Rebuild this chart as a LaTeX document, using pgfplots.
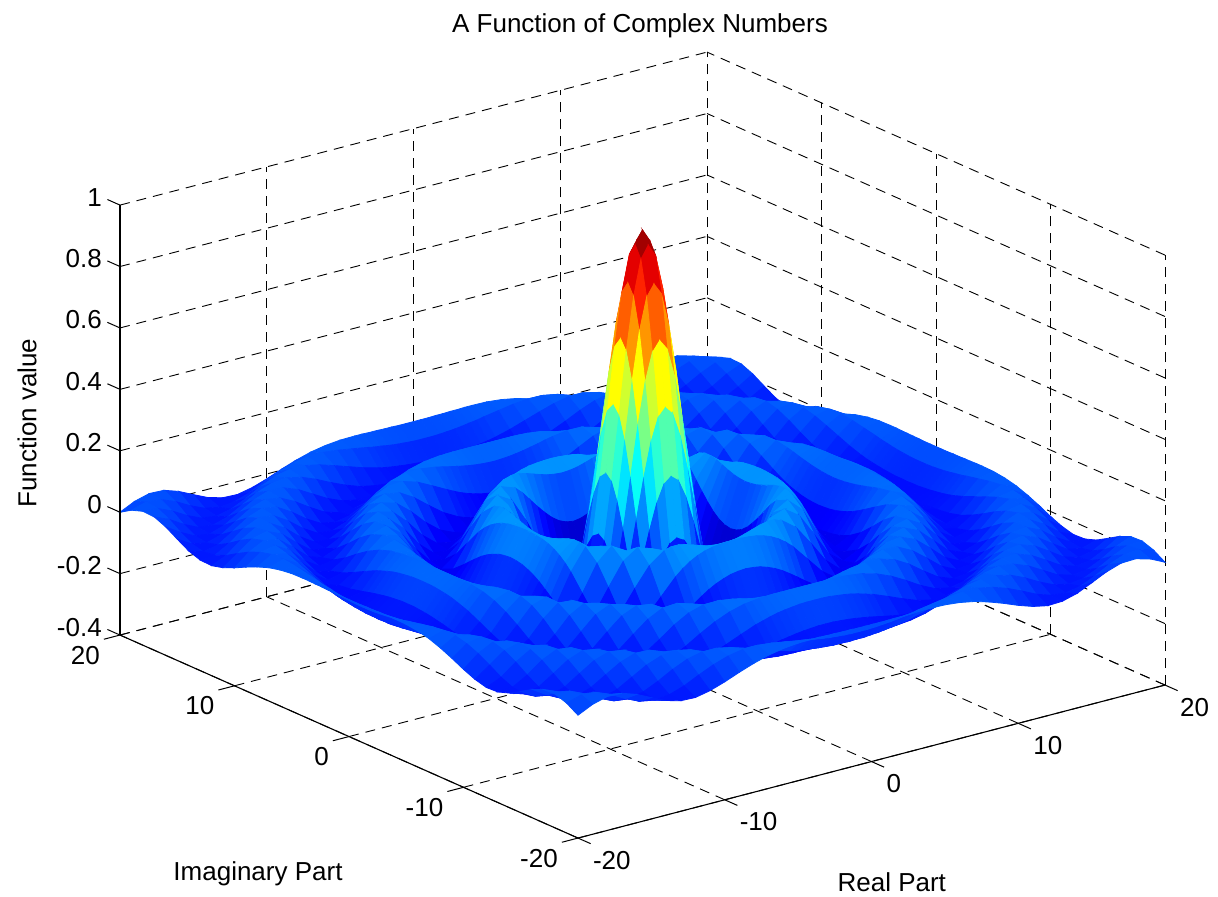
\documentclass[border=0pt]{standalone}
\usepackage{fontspec}
\setmainfont{Liberation Sans}
\usepackage{pgfplots}
\pgfplotsset{compat=1.18}
\begin{document}
\begin{tikzpicture}
\path[use as bounding box] (0,0) rectangle (609pt,448pt);
\begin{axis}[
  at={(321.25pt,179.4pt)}, anchor=origin,
  x={(7.3375pt,1.9125pt)}, y={(-5.725pt,2.5375pt)}, z={(0pt,153.55pt)},
  view={-37.5}{30}, clip=false,
  xmin=-20,xmax=20,ymin=-20,ymax=20,zmin=-0.4,zmax=1,
  xtick={-20,-10,0,10,20}, ytick={-20,-10,0,10,20}, ztick={-0.4,-0.2,0,0.2,0.4,0.6,0.8,1},
  grid=major, grid style={black,dash pattern=on 5pt off 3.5pt,line width=0.45pt},
  axis line style={draw=none},
  tick pos=left, major tick length=0pt,
  every axis title shift=0pt,
  /pgf/number format/assume math mode=true,
  tick label style={font=\fontsize{13}{15}\selectfont},
  xticklabel style={anchor=west,xshift=4pt,yshift=-11pt},
  yticklabel style={anchor=east,xshift=-6.6pt,yshift=-10pt},
  zticklabel style={anchor=east,xshift=-5.6pt,yshift=4pt},
  colormap/jet, point meta min=-0.217, point meta max=1,
  title={A Function of Complex Numbers},
  title style={font=\fontsize{13}{15}\selectfont,at={(axis cs:19.85,25.66,1)},anchor=center,yshift=-1pt},
  xlabel={Real Part},
  xlabel style={font=\fontsize{13}{15}\selectfont,at={(axis cs:-10.79,-35.6,-0.4)},anchor=center,rotate=0},
  ylabel={Imaginary Part},
  ylabel style={font=\fontsize{13}{15}\selectfont,at={(axis cs:-36.93,-13.75,-0.4)},anchor=center,rotate=0,yshift=-1.5pt},
  zlabel={Function value},
  zlabel style={font=\fontsize{13}{15}\selectfont,at={(axis cs:-3.47,49.3,-0.4)},anchor=center,rotate=0},
]
\addplot3[surf,shader=flat,mesh/rows=49,mesh/cols=49]
 table[header=false,
  x expr={ifthenelse(mod(\coordindex,49)<16,mod(\coordindex,49)-20,ifthenelse(mod(\coordindex,49)<33,(mod(\coordindex,49)-16)/2-4,mod(\coordindex,49)-28))},
  y expr={ifthenelse(floor((\coordindex+0.5)/49)<16,floor((\coordindex+0.5)/49)-20,ifthenelse(floor((\coordindex+0.5)/49)<33,(floor((\coordindex+0.5)/49)-16)/2-4,floor((\coordindex+0.5)/49)-28))},
  z index=0]{
0
.023
.036
.034
.018
-.005
-.027
-.040
-.042
-.032
-.016
.003
.020
.034
.043
.048
.049
.049
.048
.048
.047
.047
.046
.046
.046
.046
.046
.047
.047
.048
.048
.049
.049
.048
.043
.034
.020
.003
-.016
-.032
-.042
-.040
-.027
-.005
.018
.034
.036
.023
0
.023
.037
.033
.014
-.012
-.033
-.042
-.037
-.021
.002
.023
.039
.048
.049
.044
.036
.028
.023
.020
.016
.013
.011
.009
.008
.008
.008
.009
.011
.013
.016
.020
.023
.028
.036
.044
.049
.048
.039
.023
.002
-.021
-.037
-.042
-.033
-.012
.014
.033
.037
.023
.036
.033
.012
-.015
-.036
-.042
-.032
-.010
.016
.037
.048
.048
.038
.023
.007
-.009
-.022
-.027
-.031
-.034
-.037
-.039
-.041
-.041
-.042
-.041
-.041
-.039
-.037
-.034
-.031
-.027
-.022
-.009
.007
.023
.038
.048
.048
.037
.016
-.010
-.032
-.042
-.036
-.015
.012
.033
.036
.034
.014
-.015
-.037
-.042
-.028
-.001
.026
.044
.049
.039
.020
-.003
-.024
-.041
-.051
-.056
-.057
-.058
-.058
-.058
-.057
-.057
-.057
-.056
-.057
-.057
-.057
-.058
-.058
-.058
-.057
-.056
-.051
-.041
-.024
-.003
.020
.039
.049
.044
.026
-.001
-.028
-.042
-.037
-.015
.014
.034
.018
-.012
-.036
-.042
-.026
.003
.031
.048
.046
.028
.001
-.026
-.046
-.056
-.057
-.052
-.043
-.038
-.033
-.029
-.025
-.022
-.020
-.018
-.018
-.018
-.020
-.022
-.025
-.029
-.033
-.038
-.043
-.052
-.057
-.056
-.046
-.026
.001
.028
.046
.048
.031
.003
-.026
-.042
-.036
-.012
.018
-.005
-.033
-.042
-.028
.003
.033
.049
.042
.018
-.013
-.041
-.056
-.056
-.045
-.027
-.007
.012
.019
.026
.032
.036
.039
.042
.043
.043
.043
.042
.039
.036
.032
.026
.019
.012
-.007
-.027
-.045
-.056
-.056
-.041
-.013
.018
.042
.049
.033
.003
-.028
-.042
-.033
-.005
-.027
-.042
-.032
-.001
.031
.049
.041
.013
-.022
-.049
-.058
-.048
-.025
.004
.030
.050
.063
.066
.069
.070
.071
.071
.071
.071
.071
.071
.071
.071
.071
.070
.069
.066
.063
.050
.030
.004
-.025
-.048
-.058
-.049
-.022
.013
.041
.049
.031
-.001
-.032
-.042
-.027
-.040
-.037
-.010
.026
.048
.042
.013
-.024
-.052
-.057
-.039
-.007
.028
.055
.069
.070
.063
.058
.052
.047
.042
.038
.035
.033
.032
.033
.035
.038
.042
.047
.052
.058
.063
.070
.069
.055
.028
-.007
-.039
-.057
-.052
-.024
.013
.042
.048
.026
-.010
-.037
-.040
-.042
-.021
.016
.044
.046
.018
-.022
-.052
-.056
-.033
.006
.043
.067
.070
.056
.032
.007
-.005
-.016
-.025
-.032
-.038
-.042
-.044
-.045
-.044
-.042
-.038
-.032
-.025
-.016
-.005
.007
.032
.056
.070
.067
.043
.006
-.033
-.056
-.052
-.022
.018
.046
.044
.016
-.021
-.042
-.032
.002
.037
.049
.028
-.013
-.049
-.057
-.033
.010
.050
.070
.063
.035
-.003
-.039
-.065
-.074
-.081
-.085
-.088
-.090
-.090
-.091
-.091
-.091
-.090
-.090
-.088
-.085
-.081
-.074
-.065
-.039
-.003
.035
.063
.070
.050
.010
-.033
-.057
-.049
-.013
.028
.049
.037
.002
-.032
-.016
.023
.048
.039
.001
-.041
-.058
-.039
.006
.050
.071
.058
.019
-.029
-.067
-.088
-.090
-.087
-.081
-.075
-.068
-.063
-.058
-.055
-.054
-.055
-.058
-.063
-.068
-.075
-.081
-.087
-.090
-.088
-.067
-.029
.019
.058
.071
.050
.006
-.039
-.058
-.041
.001
.039
.048
.023
-.016
.003
.039
.048
.020
-.026
-.056
-.048
-.007
.043
.070
.058
.013
-.042
-.081
-.091
-.074
-.042
-.024
-.007
.009
.022
.032
.040
.044
.046
.044
.040
.032
.022
.009
-.007
-.024
-.042
-.074
-.091
-.081
-.042
.013
.058
.070
.043
-.007
-.048
-.056
-.026
.020
.048
.039
.003
.020
.048
.038
-.003
-.046
-.056
-.025
.028
.067
.063
.019
-.042
-.084
-.088
-.054
-.001
.052
.073
.090
.103
.112
.118
.121
.123
.124
.123
.121
.118
.112
.103
.090
.073
.052
-.001
-.054
-.088
-.084
-.042
.019
.063
.067
.028
-.025
-.056
-.046
-.003
.038
.048
.020
.034
.049
.023
-.024
-.056
-.045
.004
.055
.070
.035
-.029
-.081
-.088
-.046
.022
.085
.121
.128
.128
.123
.115
.107
.100
.096
.094
.096
.100
.107
.115
.123
.128
.128
.121
.085
.022
-.046
-.088
-.081
-.029
.035
.070
.055
.004
-.045
-.056
-.024
.023
.049
.034
.043
.044
.007
-.041
-.057
-.027
.030
.069
.056
-.003
-.067
-.091
-.054
.022
.095
.128
.111
.089
.061
.033
.007
-.016
-.033
-.043
-.047
-.043
-.033
-.016
.007
.033
.061
.089
.111
.128
.095
.022
-.054
-.091
-.067
-.003
.056
.069
.030
-.027
-.057
-.041
.007
.044
.043
.048
.036
-.009
-.051
-.052
-.007
.050
.070
.032
-.039
-.088
-.074
-.001
.085
.128
.100
.019
-.029
-.075
-.114
-.145
-.167
-.182
-.189
-.192
-.189
-.182
-.167
-.145
-.114
-.075
-.029
.019
.100
.128
.085
-.001
-.074
-.088
-.039
.032
.070
.050
-.007
-.052
-.051
-.009
.036
.048
.049
.028
-.022
-.056
-.043
.012
.063
.063
.007
-.065
-.090
-.042
.052
.121
.111
.019
-.104
-.155
-.192
-.212
-.217
-.212
-.202
-.193
-.189
-.193
-.202
-.212
-.217
-.212
-.192
-.155
-.104
.019
.111
.121
.052
-.042
-.090
-.065
.007
.063
.063
.012
-.043
-.056
-.022
.028
.049
.049
.023
-.027
-.057
-.038
.019
.066
.058
-.005
-.074
-.087
-.024
.073
.128
.089
-.029
-.155
-.196
-.216
-.213
-.193
-.162
-.131
-.108
-.100
-.108
-.131
-.162
-.193
-.213
-.216
-.196
-.155
-.029
.089
.128
.073
-.024
-.087
-.074
-.005
.058
.066
.019
-.038
-.057
-.027
.023
.049
.048
.020
-.031
-.058
-.033
.026
.069
.052
-.016
-.081
-.081
-.007
.090
.128
.061
-.075
-.192
-.216
-.210
-.177
-.124
-.063
-.007
.033
.047
.033
-.007
-.063
-.124
-.177
-.210
-.216
-.192
-.075
.061
.128
.090
-.007
-.081
-.081
-.016
.052
.069
.026
-.033
-.058
-.031
.020
.048
.048
.016
-.034
-.058
-.029
.032
.070
.047
-.025
-.085
-.075
.009
.103
.123
.033
-.114
-.212
-.213
-.177
-.108
-.019
.077
.161
.219
.239
.219
.161
.077
-.019
-.108
-.177
-.213
-.212
-.114
.033
.123
.103
.009
-.075
-.085
-.025
.047
.070
.032
-.029
-.058
-.034
.016
.048
.047
.013
-.037
-.058
-.025
.036
.071
.042
-.032
-.088
-.068
.022
.112
.115
.007
-.145
-.217
-.193
-.124
-.019
.109
.239
.352
.428
.455
.428
.352
.239
.109
-.019
-.124
-.193
-.217
-.145
.007
.115
.112
.022
-.068
-.088
-.032
.042
.071
.036
-.025
-.058
-.037
.013
.047
.047
.011
-.039
-.057
-.022
.039
.071
.038
-.038
-.090
-.063
.032
.118
.107
-.016
-.167
-.212
-.162
-.063
.077
.239
.402
.540
.632
.665
.632
.540
.402
.239
.077
-.063
-.162
-.212
-.167
-.016
.107
.118
.032
-.063
-.090
-.038
.038
.071
.039
-.022
-.057
-.039
.011
.047
.046
.009
-.041
-.057
-.020
.042
.071
.035
-.042
-.090
-.058
.040
.121
.100
-.033
-.182
-.202
-.131
-.007
.161
.352
.540
.698
.804
.841
.804
.698
.540
.352
.161
-.007
-.131
-.202
-.182
-.033
.100
.121
.040
-.058
-.090
-.042
.035
.071
.042
-.020
-.057
-.041
.009
.046
.046
.008
-.041
-.057
-.018
.043
.071
.033
-.044
-.091
-.055
.044
.123
.096
-.043
-.189
-.193
-.108
.033
.219
.428
.632
.804
.919
.959
.919
.804
.632
.428
.219
.033
-.108
-.193
-.189
-.043
.096
.123
.044
-.055
-.091
-.044
.033
.071
.043
-.018
-.057
-.041
.008
.046
.046
.008
-.042
-.056
-.018
.043
.071
.032
-.045
-.091
-.054
.046
.124
.094
-.047
-.192
-.189
-.100
.047
.239
.455
.665
.841
.959
1
.959
.841
.665
.455
.239
.047
-.100
-.189
-.192
-.047
.094
.124
.046
-.054
-.091
-.045
.032
.071
.043
-.018
-.056
-.042
.008
.046
.046
.008
-.041
-.057
-.018
.043
.071
.033
-.044
-.091
-.055
.044
.123
.096
-.043
-.189
-.193
-.108
.033
.219
.428
.632
.804
.919
.959
.919
.804
.632
.428
.219
.033
-.108
-.193
-.189
-.043
.096
.123
.044
-.055
-.091
-.044
.033
.071
.043
-.018
-.057
-.041
.008
.046
.046
.009
-.041
-.057
-.020
.042
.071
.035
-.042
-.090
-.058
.040
.121
.100
-.033
-.182
-.202
-.131
-.007
.161
.352
.540
.698
.804
.841
.804
.698
.540
.352
.161
-.007
-.131
-.202
-.182
-.033
.100
.121
.040
-.058
-.090
-.042
.035
.071
.042
-.020
-.057
-.041
.009
.046
.047
.011
-.039
-.057
-.022
.039
.071
.038
-.038
-.090
-.063
.032
.118
.107
-.016
-.167
-.212
-.162
-.063
.077
.239
.402
.540
.632
.665
.632
.540
.402
.239
.077
-.063
-.162
-.212
-.167
-.016
.107
.118
.032
-.063
-.090
-.038
.038
.071
.039
-.022
-.057
-.039
.011
.047
.047
.013
-.037
-.058
-.025
.036
.071
.042
-.032
-.088
-.068
.022
.112
.115
.007
-.145
-.217
-.193
-.124
-.019
.109
.239
.352
.428
.455
.428
.352
.239
.109
-.019
-.124
-.193
-.217
-.145
.007
.115
.112
.022
-.068
-.088
-.032
.042
.071
.036
-.025
-.058
-.037
.013
.047
.048
.016
-.034
-.058
-.029
.032
.070
.047
-.025
-.085
-.075
.009
.103
.123
.033
-.114
-.212
-.213
-.177
-.108
-.019
.077
.161
.219
.239
.219
.161
.077
-.019
-.108
-.177
-.213
-.212
-.114
.033
.123
.103
.009
-.075
-.085
-.025
.047
.070
.032
-.029
-.058
-.034
.016
.048
.048
.020
-.031
-.058
-.033
.026
.069
.052
-.016
-.081
-.081
-.007
.090
.128
.061
-.075
-.192
-.216
-.210
-.177
-.124
-.063
-.007
.033
.047
.033
-.007
-.063
-.124
-.177
-.210
-.216
-.192
-.075
.061
.128
.090
-.007
-.081
-.081
-.016
.052
.069
.026
-.033
-.058
-.031
.020
.048
.049
.023
-.027
-.057
-.038
.019
.066
.058
-.005
-.074
-.087
-.024
.073
.128
.089
-.029
-.155
-.196
-.216
-.213
-.193
-.162
-.131
-.108
-.100
-.108
-.131
-.162
-.193
-.213
-.216
-.196
-.155
-.029
.089
.128
.073
-.024
-.087
-.074
-.005
.058
.066
.019
-.038
-.057
-.027
.023
.049
.049
.028
-.022
-.056
-.043
.012
.063
.063
.007
-.065
-.090
-.042
.052
.121
.111
.019
-.104
-.155
-.192
-.212
-.217
-.212
-.202
-.193
-.189
-.193
-.202
-.212
-.217
-.212
-.192
-.155
-.104
.019
.111
.121
.052
-.042
-.090
-.065
.007
.063
.063
.012
-.043
-.056
-.022
.028
.049
.048
.036
-.009
-.051
-.052
-.007
.050
.070
.032
-.039
-.088
-.074
-.001
.085
.128
.100
.019
-.029
-.075
-.114
-.145
-.167
-.182
-.189
-.192
-.189
-.182
-.167
-.145
-.114
-.075
-.029
.019
.100
.128
.085
-.001
-.074
-.088
-.039
.032
.070
.050
-.007
-.052
-.051
-.009
.036
.048
.043
.044
.007
-.041
-.057
-.027
.030
.069
.056
-.003
-.067
-.091
-.054
.022
.095
.128
.111
.089
.061
.033
.007
-.016
-.033
-.043
-.047
-.043
-.033
-.016
.007
.033
.061
.089
.111
.128
.095
.022
-.054
-.091
-.067
-.003
.056
.069
.030
-.027
-.057
-.041
.007
.044
.043
.034
.049
.023
-.024
-.056
-.045
.004
.055
.070
.035
-.029
-.081
-.088
-.046
.022
.085
.121
.128
.128
.123
.115
.107
.100
.096
.094
.096
.100
.107
.115
.123
.128
.128
.121
.085
.022
-.046
-.088
-.081
-.029
.035
.070
.055
.004
-.045
-.056
-.024
.023
.049
.034
.020
.048
.038
-.003
-.046
-.056
-.025
.028
.067
.063
.019
-.042
-.084
-.088
-.054
-.001
.052
.073
.090
.103
.112
.118
.121
.123
.124
.123
.121
.118
.112
.103
.090
.073
.052
-.001
-.054
-.088
-.084
-.042
.019
.063
.067
.028
-.025
-.056
-.046
-.003
.038
.048
.020
.003
.039
.048
.020
-.026
-.056
-.048
-.007
.043
.070
.058
.013
-.042
-.081
-.091
-.074
-.042
-.024
-.007
.009
.022
.032
.040
.044
.046
.044
.040
.032
.022
.009
-.007
-.024
-.042
-.074
-.091
-.081
-.042
.013
.058
.070
.043
-.007
-.048
-.056
-.026
.020
.048
.039
.003
-.016
.023
.048
.039
.001
-.041
-.058
-.039
.006
.050
.071
.058
.019
-.029
-.067
-.088
-.090
-.087
-.081
-.075
-.068
-.063
-.058
-.055
-.054
-.055
-.058
-.063
-.068
-.075
-.081
-.087
-.090
-.088
-.067
-.029
.019
.058
.071
.050
.006
-.039
-.058
-.041
.001
.039
.048
.023
-.016
-.032
.002
.037
.049
.028
-.013
-.049
-.057
-.033
.010
.050
.070
.063
.035
-.003
-.039
-.065
-.074
-.081
-.085
-.088
-.090
-.090
-.091
-.091
-.091
-.090
-.090
-.088
-.085
-.081
-.074
-.065
-.039
-.003
.035
.063
.070
.050
.010
-.033
-.057
-.049
-.013
.028
.049
.037
.002
-.032
-.042
-.021
.016
.044
.046
.018
-.022
-.052
-.056
-.033
.006
.043
.067
.070
.056
.032
.007
-.005
-.016
-.025
-.032
-.038
-.042
-.044
-.045
-.044
-.042
-.038
-.032
-.025
-.016
-.005
.007
.032
.056
.070
.067
.043
.006
-.033
-.056
-.052
-.022
.018
.046
.044
.016
-.021
-.042
-.040
-.037
-.010
.026
.048
.042
.013
-.024
-.052
-.057
-.039
-.007
.028
.055
.069
.070
.063
.058
.052
.047
.042
.038
.035
.033
.032
.033
.035
.038
.042
.047
.052
.058
.063
.070
.069
.055
.028
-.007
-.039
-.057
-.052
-.024
.013
.042
.048
.026
-.010
-.037
-.040
-.027
-.042
-.032
-.001
.031
.049
.041
.013
-.022
-.049
-.058
-.048
-.025
.004
.030
.050
.063
.066
.069
.070
.071
.071
.071
.071
.071
.071
.071
.071
.071
.070
.069
.066
.063
.050
.030
.004
-.025
-.048
-.058
-.049
-.022
.013
.041
.049
.031
-.001
-.032
-.042
-.027
-.005
-.033
-.042
-.028
.003
.033
.049
.042
.018
-.013
-.041
-.056
-.056
-.045
-.027
-.007
.012
.019
.026
.032
.036
.039
.042
.043
.043
.043
.042
.039
.036
.032
.026
.019
.012
-.007
-.027
-.045
-.056
-.056
-.041
-.013
.018
.042
.049
.033
.003
-.028
-.042
-.033
-.005
.018
-.012
-.036
-.042
-.026
.003
.031
.048
.046
.028
.001
-.026
-.046
-.056
-.057
-.052
-.043
-.038
-.033
-.029
-.025
-.022
-.020
-.018
-.018
-.018
-.020
-.022
-.025
-.029
-.033
-.038
-.043
-.052
-.057
-.056
-.046
-.026
.001
.028
.046
.048
.031
.003
-.026
-.042
-.036
-.012
.018
.034
.014
-.015
-.037
-.042
-.028
-.001
.026
.044
.049
.039
.020
-.003
-.024
-.041
-.051
-.056
-.057
-.058
-.058
-.058
-.057
-.057
-.057
-.056
-.057
-.057
-.057
-.058
-.058
-.058
-.057
-.056
-.051
-.041
-.024
-.003
.020
.039
.049
.044
.026
-.001
-.028
-.042
-.037
-.015
.014
.034
.036
.033
.012
-.015
-.036
-.042
-.032
-.010
.016
.037
.048
.048
.038
.023
.007
-.009
-.022
-.027
-.031
-.034
-.037
-.039
-.041
-.041
-.042
-.041
-.041
-.039
-.037
-.034
-.031
-.027
-.022
-.009
.007
.023
.038
.048
.048
.037
.016
-.010
-.032
-.042
-.036
-.015
.012
.033
.036
.023
.037
.033
.014
-.012
-.033
-.042
-.037
-.021
.002
.023
.039
.048
.049
.044
.036
.028
.023
.020
.016
.013
.011
.009
.008
.008
.008
.009
.011
.013
.016
.020
.023
.028
.036
.044
.049
.048
.039
.023
.002
-.021
-.037
-.042
-.033
-.012
.014
.033
.037
.023
0
.023
.036
.034
.018
-.005
-.027
-.040
-.042
-.032
-.016
.003
.020
.034
.043
.048
.049
.049
.048
.048
.047
.047
.046
.046
.046
.046
.046
.047
.047
.048
.048
.049
.049
.048
.043
.034
.020
.003
-.016
-.032
-.042
-.040
-.027
-.005
.018
.034
.036
.023
0
};
\draw[black,line width=0.55pt] (axis cs:-20,20,-0.4)--(axis cs:-20,20,1);
\draw[black,line width=0.55pt] (axis cs:-20,20,-0.4)--(axis cs:-20,-20,-0.4)--(axis cs:20,-20,-0.4);
\pgfplotsinvokeforeach{-20,-10,0,10,20}{
  \draw[black,line width=0.5pt] (axis cs:#1,-20,-0.4)--(axis cs:#1,-21.1,-0.4);
  \draw[black,line width=0.5pt] (axis cs:-20,#1,-0.4)--(axis cs:-21.1,#1,-0.4);
}
\pgfplotsinvokeforeach{-0.4,-0.2,0,0.2,0.4,0.6,0.8,1}{
  \draw[black,line width=0.5pt] (axis cs:-20,20,#1)--(axis cs:-20,21.1,#1);
}
\end{axis}
\end{tikzpicture}
\end{document}
